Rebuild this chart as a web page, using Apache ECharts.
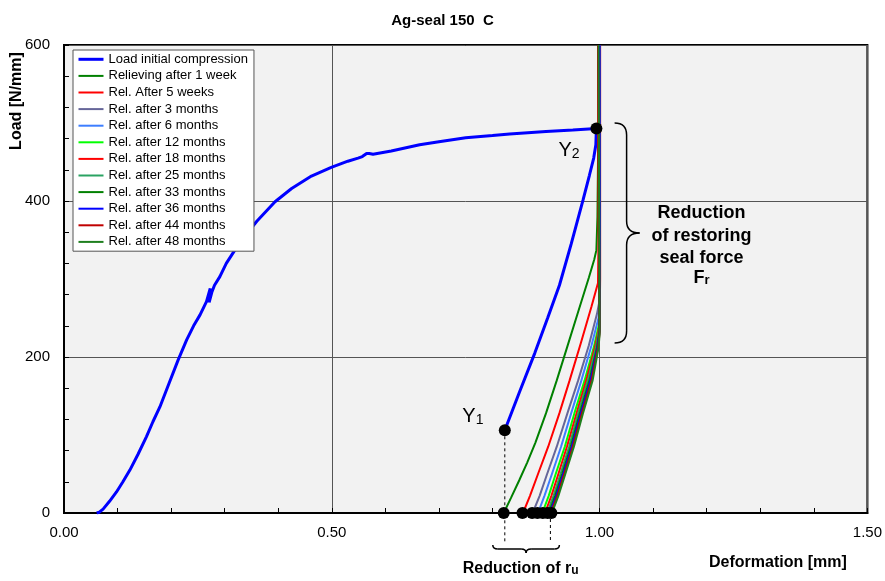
<!DOCTYPE html>
<html><head><meta charset="utf-8">
<script src="https://cdn.jsdelivr.net/npm/echarts@6/dist/echarts.min.js"></script>
<style>html,body{margin:0;padding:0;background:#fff}#c{width:885px;height:581px}</style>
</head><body><div id="c"></div>
<script>
// ---------- DATA ----------
const titleText = 'Ag-seal 150  C';
const xTicks = [0, 0.5, 1.0, 1.5];
const yTicks = [0, 200, 400, 600];

const seriesNames = [
  'Load initial compression', 'Relieving after 1 week', 'Rel. After 5 weeks',
  'Rel. after 3 months', 'Rel. after 6 months', 'Rel. after 12 months',
  'Rel. after 18 months', 'Rel. after 25 months', 'Rel. after 33 months',
  'Rel. after 36 months', 'Rel. after 44 months', 'Rel. after 48 months'
];
const seriesColors = ['#0000ff','#008000','#ff0000','#666699','#3d7eff','#00ff00',
  '#ff0000','#2aa362','#008000','#0000ff','#c00000','#1f7f1f'];

// Load initial compression (loading up to Y2, then unloading down to Y1)
const loadX = [0.061,0.066,0.073,0.085,0.098,0.110,0.123,0.138,0.154,0.166,0.179,0.196,0.213,0.229,0.242,0.254,0.266,0.273,0.271,0.276,0.281,0.291,0.303,0.319,0.340,0.360,0.394,0.425,0.462,0.499,0.530,0.549,0.557,0.565,0.570,0.577,0.611,0.664,0.700,0.750,0.800,0.832,0.900,0.950,0.994,
  0.993,0.989,0.981,0.969,0.947,0.925,0.903,0.879,0.851,0.823];
const loadY = [0,1,5,15,27,40,55,75,98,117,136,166,196,222,240,254,271,288,270,283,292,303,320,337,357,374,399,416,432,443,451,455,457,461,461,460,464,472,476,481,484,486,489,491,493,
  472,455,433,401,345,292,250,205,156,106];

const rel1wX = [0.821,0.835,0.850,0.865,0.880,0.900,0.920,0.940,0.960,0.980,0.990,0.994,0.996,0.997,0.998,0.998];
const rel1wY = [0,20,42,65,90,128,170,214,258,302,325,337,380,450,520,600];
const rel5wX = [0.857,0.870,0.885,0.904,0.925,0.944,0.965,0.985,0.997,0.998,0.998,0.997];
const rel5wY = [0,22,50,85,128,170,218,265,295,350,450,600];
const rel3mX = [0.875,0.888,0.902,0.920,0.940,0.960,0.980,0.995,0.999,0.999,0.999];
const rel3mY = [0,22,50,85,128,170,215,255,269,350,600];
const rel6mX = [0.885,0.897,0.911,0.928,0.947,0.966,0.985,0.998,1.000,1.000];
const rel6mY = [0,22,50,85,128,170,215,250,270,600];
const rel12mX = [0.893,0.905,0.918,0.935,0.953,0.972,0.989,0.999,1.000,0.999];
const rel12mY = [0,22,50,85,128,170,212,242,270,600];
const rel18mX = [0.898,0.910,0.923,0.939,0.957,0.975,0.991,1.000,1.001,1.001];
const rel18mY = [0,22,50,85,128,170,212,240,300,600];
const rel25mX = [0.902,0.914,0.927,0.943,0.960,0.978,0.993,1.000,1.000];
const rel25mY = [0,22,50,85,128,170,212,238,600];
const rel33mX = [0.905,0.917,0.930,0.946,0.963,0.981,0.995,1.000,0.999];
const rel33mY = [0,22,50,85,128,170,212,235,600];
const rel36mX = [0.907,0.919,0.932,0.948,0.965,0.983,0.996,1.000,1.000];
const rel36mY = [0,22,50,85,128,170,212,233,600];
const rel44mX = [0.909,0.921,0.934,0.950,0.967,0.985,0.997,1.000,0.997];
const rel44mY = [0,22,50,85,128,170,212,231,600];
const rel48mX = [0.911,0.923,0.936,0.952,0.969,0.987,0.998,1.000,0.998];
const rel48mY = [0,22,50,85,128,170,212,229,600];

// Marked points: Y1, Y2 and residual deformation points
const markerX = [0.823, 0.994, 0.821, 0.856, 0.874, 0.884, 0.894, 0.903, 0.910];
const markerY = [106, 493, 0, 0, 0, 0, 0, 0, 0];

// ---------- BUILD ----------
const seriesXs = [loadX, rel1wX, rel5wX, rel3mX, rel6mX, rel12mX, rel18mX, rel25mX, rel33mX, rel36mX, rel44mX, rel48mX];
const seriesYs = [loadY, rel1wY, rel5wY, rel3mY, rel6mY, rel12mY, rel18mY, rel25mY, rel33mY, rel36mY, rel44mY, rel48mY];
const zip = (xs, ys) => xs.map((x, i) => [x, ys[i]]);

const FONT = "'Liberation Sans', Arial, sans-serif";

const series = seriesNames.map((n, i) => ({
  name: n, type: 'line', data: zip(seriesXs[i], seriesYs[i]),
  showSymbol: false, symbol: 'none', smooth: false,
  lineStyle: { color: seriesColors[i], width: i === 0 ? 3 : 2 },
  itemStyle: { color: seriesColors[i] },
  z: 2, animation: false
}));
series.push({
  name: 'markers', type: 'scatter', data: zip(markerX, markerY),
  symbol: 'circle', symbolSize: 12, itemStyle: { color: '#000', opacity: 1 }, z: 5, animation: false
});

const chart = echarts.init(document.getElementById('c'), null, { renderer: 'canvas' });
const option = {
  animation: false,
  backgroundColor: '#fff',
  title: { text: titleText, left: 'center', top: 8,
    textStyle: { fontFamily: FONT, fontSize: 15, fontWeight: 'bold', color: '#000' } },
  grid: { left: 64, right: 16, top: 45, bottom: 68, show: true,
    backgroundColor: '#f2f2f2', borderColor: '#000', borderWidth: 2 },
  legend: {
    data: seriesNames, orient: 'vertical', left: 73, top: 50,
    padding: [1, 6, 1, 4], itemGap: 0, itemWidth: 25, itemHeight: 10,
    backgroundColor: '#fff', borderColor: '#555', borderWidth: 1,
    selectedMode: false,
    textStyle: { fontFamily: FONT, fontSize: 13, color: '#000', lineHeight: 16.6 },
    lineStyle: { width: 'inherit' },
    itemStyle: { opacity: 0 }
  },
  xAxis: {
    type: 'value', min: xTicks[0], max: xTicks[xTicks.length - 1], interval: 0.5,
    axisLine: { show: true, onZero: false, lineStyle: { color: '#000', width: 2 } },
    axisTick: { show: true, inside: true, length: 5, lineStyle: { color: '#000' } },
    minorTick: { show: true, splitNumber: 5, length: 5, lineStyle: { color: '#000' } },
    splitLine: { show: true, lineStyle: { color: '#555', width: 1 } },
    axisLabel: { formatter: v => v.toFixed(2), fontFamily: FONT, fontSize: 15, color: '#000', margin: 12 }
  },
  yAxis: {
    type: 'value', min: yTicks[0], max: yTicks[yTicks.length - 1], interval: 200,
    axisLine: { show: true, onZero: false, lineStyle: { color: '#000', width: 2 } },
    axisTick: { show: true, inside: true, length: 5, lineStyle: { color: '#000' } },
    minorTick: { show: true, splitNumber: 5, length: 5, lineStyle: { color: '#000' } },
    splitLine: { show: true, lineStyle: { color: '#555', width: 1 } },
    axisLabel: { fontFamily: FONT, fontSize: 15, color: '#000', margin: 14 }
  },
  series: series
};
chart.setOption(option);

// ---------- ANNOTATIONS ----------
const p = (x, y) => chart.convertToPixel({ gridIndex: 0 }, [x, y]);
const Y1 = p(markerX[0], markerY[0]);
const Y2 = p(markerX[1], markerY[1]);
const lastDot = p(markerX[markerX.length - 1], 0);
const axisBottom = p(0, 0)[1];
const bx = p(1.0, 0)[0];
const bTop = p(0, 500)[1], bBot = p(0, 218)[1], bMid = (bTop + bBot) / 2;

const S = { stroke: '#000', lineWidth: 1.5, fill: null };
const seg = (a, b, c, d) => ({ type: 'line', z: 4, shape: { x1: a, y1: b, x2: c, y2: d }, style: S });
const qb = (a, b, cx_, cy_, c, d) => ({ type: 'bezierCurve', z: 4,
  shape: { x1: a, y1: b, cpx1: cx_, cpy1: cy_, x2: c, y2: d }, style: S });

// right brace
const x0 = bx + 15, x1 = bx + 27, x2 = bx + 40;
const rightBrace = [
  qb(x0, bTop, x1, bTop, x1, bTop + 12),
  seg(x1, bTop + 12, x1, bMid - 12),
  qb(x1, bMid - 12, x1, bMid, x2, bMid),
  qb(x2, bMid, x1, bMid, x1, bMid + 12),
  seg(x1, bMid + 12, x1, bBot - 12),
  qb(x1, bBot - 12, x1, bBot, x0, bBot)
];
// bottom brace
const lx = Y1[0] - 12, rx = lastDot[0] + 8, cx = (lx + rx) / 2;
const yb0 = axisBottom + 32, yb1 = axisBottom + 36, yb2 = axisBottom + 40;
const bottomBrace = [
  qb(lx, yb0, lx, yb1, lx + 5, yb1),
  seg(lx + 5, yb1, cx - 5, yb1),
  qb(cx - 5, yb1, cx, yb1, cx, yb2),
  qb(cx, yb2, cx, yb1, cx + 5, yb1),
  seg(cx + 5, yb1, rx - 5, yb1),
  qb(rx - 5, yb1, rx, yb1, rx, yb0)
];

const subRich = (big, small, bold) => ({
  a: { fontFamily: FONT, fontSize: big, lineHeight: big, fontWeight: bold ? 'bold' : 'normal', color: '#000' },
  s: { fontFamily: FONT, fontSize: small, lineHeight: Math.round(small * 0.7), fontWeight: bold ? 'bold' : 'normal', color: '#000', verticalAlign: 'bottom' }
});
const boldText = (txt, x, y, size, align) => ({
  type: 'text', x: x, y: y, z: 10,
  style: { text: txt, fontFamily: FONT, fontSize: size, fontWeight: 'bold', fill: '#000', align: align || 'center', verticalAlign: 'middle' }
});
const tx = bx + 102;

chart.setOption({
  graphic: [
    { type: 'line', z: 4, shape: { x1: Y1[0], y1: Y1[1], x2: Y1[0], y2: axisBottom + 29 },
      style: { stroke: '#000', lineWidth: 1, lineDash: [3, 3] } },
    { type: 'line', z: 4, shape: { x1: lastDot[0] - 1, y1: axisBottom, x2: lastDot[0] - 1, y2: axisBottom + 29 },
      style: { stroke: '#000', lineWidth: 1, lineDash: [3, 3] } }
  ].concat(rightBrace, bottomBrace, [
    { type: 'text', z: 10, x: Y1[0] - 42.5, y: Y1[1] - 13.5,
      style: { text: '{a|Y}{s|1}', rich: subRich(20, 14, false), align: 'left', verticalAlign: 'middle' } },
    { type: 'text', z: 10, x: Y2[0] - 38, y: Y2[1] + 22.5,
      style: { text: '{a|Y}{s|2}', rich: subRich(20, 14, false), align: 'left', verticalAlign: 'middle' } },
    boldText('Reduction', tx, bMid - 20, 18),
    boldText('of restoring', tx, bMid + 3, 18),
    boldText('seal force', tx, bMid + 25, 18),
    { type: 'text', z: 10, x: tx, y: bMid + 45,
      style: { text: '{a|F}{s|r}', rich: subRich(18, 13, true), align: 'center', verticalAlign: 'middle' } },
    { type: 'text', z: 10, x: Y1[0] - 42, y: axisBottom + 56,
      style: { text: '{a|Reduction of r}{s|u}', rich: subRich(16, 12, true), align: 'left', verticalAlign: 'middle' } },
    boldText('Deformation [mm]', 709, axisBottom + 50, 16, 'left'),
    { type: 'text', z: 10, x: 16.5, y: 101, rotation: Math.PI / 2,
      style: { text: 'Load [N/mm]', fontFamily: FONT, fontSize: 16, fontWeight: 'bold', fill: '#000', align: 'center', verticalAlign: 'middle' } }
  ])
});
</script>
</body></html>
